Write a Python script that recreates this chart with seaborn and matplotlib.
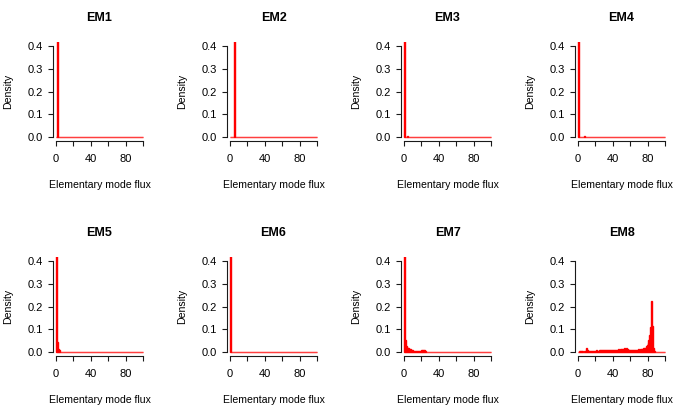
"""
Elementary mode flux distributions (EM1..EM8), 2x4 grid of density histograms
"""

import numpy as np
import pandas as pd
import matplotlib
matplotlib.use("Agg")
import matplotlib.pyplot as plt
import seaborn as sns

# =============================================================================
# DATA  (bin start -> density, bin width 1; spikes above 0.4 are clipped)
# =============================================================================
titles = ["EM1", "EM2", "EM3", "EM4", "EM5", "EM6", "EM7", "EM8"]

em1_bins = [1]
em1_density = [0.99]

em2_bins = [5]
em2_density = [0.99]

em3_bins = [0, 4]
em3_density = [0.99, 0.003]

em4_bins = [0, 7]
em4_density = [0.99, 0.004]

em5_bins = [0, 1, 2, 3, 4]
em5_density = [0.92, 0.045, 0.012, 0.01, 0.008]

em6_bins = [0]
em6_density = [0.99]

em7_bins = [0, 1, 2, 3, 4, 5, 6, 7, 8, 9, 10, 11, 12, 13, 14, 15, 16, 17,
            18, 19, 20, 21, 22, 23, 24, 25, 26]
em7_density = [0.75, 0.052, 0.026, 0.022, 0.02, 0.018, 0.015, 0.012, 0.009,
               0.008, 0.006, 0.005, 0.005, 0.004, 0.005, 0.004, 0.004, 0.004,
               0.005, 0.006, 0.007, 0.009, 0.010, 0.008, 0.003, 0.002, 0.001]

em8_bins = list(range(88))
em8_density = [0.002, 0.003, 0.003, 0.002, 0.003, 0.003, 0.002, 0.003, 0.004,
               0.018, 0.008,
               0.005, 0.004, 0.006, 0.005, 0.004, 0.006, 0.005, 0.006, 0.005,
               0.006, 0.007, 0.005, 0.006, 0.008, 0.007, 0.006, 0.007, 0.008, 0.007,
               0.008, 0.009, 0.008, 0.010, 0.009, 0.011, 0.010, 0.009, 0.010, 0.008,
               0.009, 0.008, 0.010, 0.009, 0.011, 0.010, 0.012, 0.011, 0.013, 0.012,
               0.014, 0.013, 0.015, 0.016, 0.014, 0.017, 0.015, 0.013, 0.011, 0.009,
               0.008, 0.009, 0.010, 0.008, 0.009, 0.010, 0.011, 0.009, 0.010, 0.012,
               0.011, 0.013, 0.012, 0.015, 0.014, 0.016, 0.018, 0.020, 0.025, 0.030,
               0.040, 0.055, 0.075, 0.110, 0.225, 0.115, 0.020, 0.003]

panels = [
    (em1_bins, em1_density), (em2_bins, em2_density),
    (em3_bins, em3_density), (em4_bins, em4_density),
    (em5_bins, em5_density), (em6_bins, em6_density),
    (em7_bins, em7_density), (em8_bins, em8_density),
]

x_ticks = [0, 20, 40, 60, 80, 100]
x_ticklabels = ["0", "", "40", "", "80", ""]
y_ticks = [0.0, 0.1, 0.2, 0.3, 0.4]
y_ticklabels = ["0.0", "0.1", "0.2", "0.3", "0.4"]


# =============================================================================
# PLOT
# =============================================================================
sns.set_style("ticks")
plt.rcParams["font.family"] = ["Liberation Sans", "DejaVu Sans"]
plt.rcParams["text.color"] = "black"

W, H = 685, 415
fig = plt.figure(figsize=(W / 100, H / 100), dpi=100)

for i, (title, (bins, dens)) in enumerate(zip(titles, panels)):
    r, c = divmod(i, 4)
    left_px = 52.5 + 174 * c
    top_px = 42.4 + 215 * r
    w_px, h_px = 94, 98.3
    ax = fig.add_axes([left_px / W, 1 - (top_px + h_px) / H, w_px / W, h_px / H])

    df = pd.DataFrame({"flux": np.asarray(bins, dtype=float) + 0.5,
                       "density": dens})
    sns.histplot(data=df, x="flux", weights="density", binwidth=1,
                 binrange=(0, 100), stat="count",
                 color="red", edgecolor="red", linewidth=1.0, alpha=1, ax=ax)

    ax.set_xlim(-4, 104)
    ax.set_ylim(-0.016, 0.416)

    for s in ["top", "right"]:
        ax.spines[s].set_visible(False)
    ax.spines["left"].set_bounds(0, 0.4)
    ax.spines["bottom"].set_bounds(0, 100)
    for s in ["left", "bottom"]:
        ax.spines[s].set_linewidth(0.8)
        ax.spines[s].set_color("#1a1a1a")

    ax.set_xticks(x_ticks)
    ax.set_xticklabels(x_ticklabels)
    ax.set_yticks(y_ticks)
    ax.set_yticklabels(y_ticklabels)
    ax.tick_params(axis="both", direction="out", length=3.8, width=0.8,
                   color="#1a1a1a", labelsize=8, labelcolor="black")
    ax.tick_params(axis="x", pad=6.0)
    ax.tick_params(axis="y", pad=3.2)

    ax.set_xlabel("Elementary mode flux", fontsize=7.6, color="black")
    ax.xaxis.set_label_coords(0.5, (top_px + h_px - (185 + 215 * r)) / h_px)
    ax.xaxis.label.set_va("center")
    ax.set_ylabel("Density", fontsize=7.6, color="black")
    ax.yaxis.set_label_coords((8 + 174 * c - left_px) / w_px, 0.5)
    ax.yaxis.label.set_va("center")

    ax.text(0.5, (top_px + h_px - (18 + 215 * r)) / h_px, title,
            transform=ax.transAxes, ha="center", va="center",
            fontsize=9, fontweight="bold", color="black")

fig.savefig("out.png", dpi=100)
